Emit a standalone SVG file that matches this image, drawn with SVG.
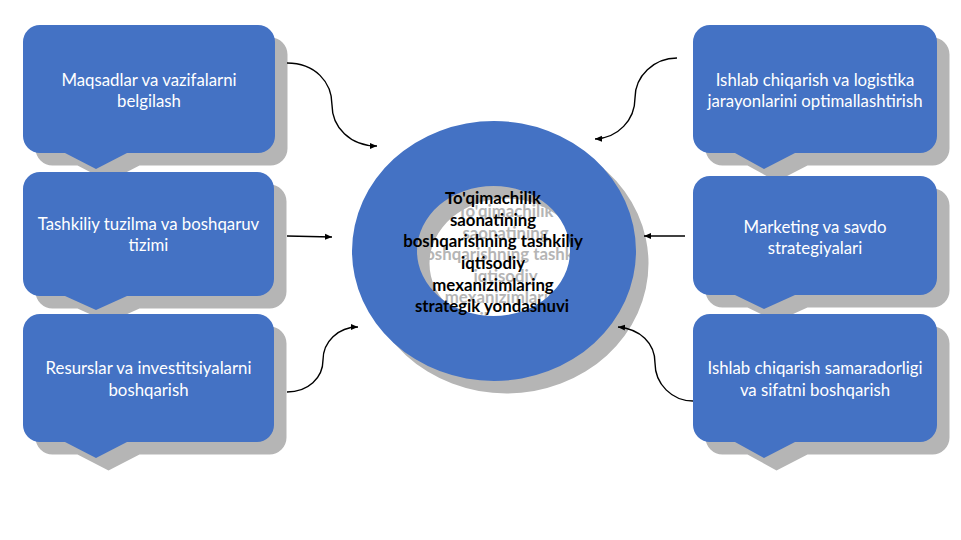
<svg xmlns="http://www.w3.org/2000/svg" width="961" height="540" viewBox="0 0 961 540">
<style>
.sh{fill:#b5b5b5}
.bx{fill:#4472c4}
.t{font-family:"Lato","Carlito","Liberation Sans",sans-serif;font-size:16.8px;fill:#fff;text-anchor:middle}
.c{font-family:"Lato","Carlito","Liberation Sans",sans-serif;font-size:16.8px;font-weight:700;text-anchor:middle}
.cn{fill:none;stroke:#000;stroke-width:1.4;marker-end:url(#a)}
</style>
<defs>
<marker id="a" viewBox="0 0 8 8" refX="7" refY="4" markerWidth="8" markerHeight="8" markerUnits="userSpaceOnUse" orient="auto"><path d="M0 1 L7 4 L0 7 Z" fill="#000"/></marker>
<path id="L1" d="M40 25H258a17 17 0 0 1 17 17V136a17 17 0 0 1-17 17H127L96 169 65 153H40a17 17 0 0 1-17-17V42a17 17 0 0 1 17-17Z"/>
<path id="L2" d="M40 172H257a17 17 0 0 1 17 17V279a17 17 0 0 1-17 17H127L96 310 65 296H40a17 17 0 0 1-17-17V189a17 17 0 0 1 17-17Z"/>
<path id="L3" d="M40 314H257a17 17 0 0 1 17 17V425a17 17 0 0 1-17 17H127L96 458 65 442H40a17 17 0 0 1-17-17V331a17 17 0 0 1 17-17Z"/>
<path id="R1" d="M710 25H920a17 17 0 0 1 17 17V136a17 17 0 0 1-17 17H795L764 169 735 153H710a17 17 0 0 1-17-17V42a17 17 0 0 1 17-17Z"/>
<path id="R2" d="M710 176H920a17 17 0 0 1 17 17V278a17 17 0 0 1-17 17H795L764 309 735 295H710a17 17 0 0 1-17-17V193a17 17 0 0 1 17-17Z"/>
<path id="R3" d="M710 314H920a17 17 0 0 1 17 17V425a17 17 0 0 1-17 17H795L764 458 735 442H710a17 17 0 0 1-17-17V331a17 17 0 0 1 17-17Z"/>
<path id="ring" fill-rule="evenodd" d="M352 251a142 130 0 1 0 284 0a142 130 0 1 0-284 0ZM417 251a76.500 65 0 1 0 153 0a76.500 65 0 1 0-153 0Z"/>
</defs>
<rect width="961" height="540" fill="#fff"/>
<g id="node-center">
<use href="#ring" class="sh" x="12.500" y="12.500"/>
<g class="c" fill="#b5b5b5" transform="translate(12.500 12.500)">
<text x="493" y="204">To'qimachilik</text><text x="493" y="226">saonatining</text><text x="493" y="247">boshqarishning tashkiliy</text><text x="493" y="269">iqtisodiy</text><text x="493" y="290.500">mexanizimlaring</text><text x="492" y="312">strategik yondashuvi</text>
</g>
<use href="#ring" class="bx"/>
<g class="c" fill="#000">
<text x="493" y="204">To'qimachilik</text><text x="493" y="226">saonatining</text><text x="493" y="247">boshqarishning tashkiliy</text><text x="493" y="269">iqtisodiy</text><text x="493" y="290.500">mexanizimlaring</text><text x="492" y="312">strategik yondashuvi</text>
</g>
</g>
<g id="node-maqsadlar"><use href="#L1" class="sh" x="12.500" y="12.500"/><use href="#L1" class="bx"/>
<text class="t" x="149" y="86">Maqsadlar va vazifalarni</text><text class="t" x="149" y="107">belgilash</text></g>
<g id="node-tashkiliy"><use href="#L2" class="sh" x="12.500" y="12.500"/><use href="#L2" class="bx"/>
<text class="t" x="148.500" y="230">Tashkiliy tuzilma va boshqaruv</text><text class="t" x="148.500" y="251">tizimi</text></g>
<g id="node-resurslar"><use href="#L3" class="sh" x="12.500" y="12.500"/><use href="#L3" class="bx"/>
<text class="t" x="148.500" y="374">Resurslar va investitsiyalarni</text><text class="t" x="148.500" y="396">boshqarish</text></g>
<g id="node-ishlab"><use href="#R1" class="sh" x="12.500" y="12.500"/><use href="#R1" class="bx"/>
<text class="t" x="815" y="86">Ishlab chiqarish va logistika</text><text class="t" x="815" y="107">jarayonlarini optimallashtirish</text></g>
<g id="node-marketing"><use href="#R2" class="sh" x="12.500" y="12.500"/><use href="#R2" class="bx"/>
<text class="t" x="815" y="232.500">Marketing va savdo</text><text class="t" x="815" y="254">strategiyalari</text></g>
<g id="node-samaradorlik"><use href="#R3" class="sh" x="12.500" y="12.500"/><use href="#R3" class="bx"/>
<text class="t" x="815" y="374">Ishlab chiqarish samaradorligi</text><text class="t" x="815" y="396">va sifatni boshqarish</text></g>
<g id="connectors">
<path class="cn" d="M287 63C315 63 332 82 332 105C332 127 350 146 377 146"/>
<path class="cn" d="M287 236L332 237"/>
<path class="cn" d="M287 392C308 392 323 378 323 360C323 342 338 327 358 327"/>
<path class="cn" d="M677 58C654 58 635 76 635 98C635 120 618 138 595 139"/>
<path class="cn" d="M685 236L644 236"/>
<path class="cn" d="M693 401C672 401 655 384 655 363C655 343 640 329 618 327"/>
</g>
</svg>
